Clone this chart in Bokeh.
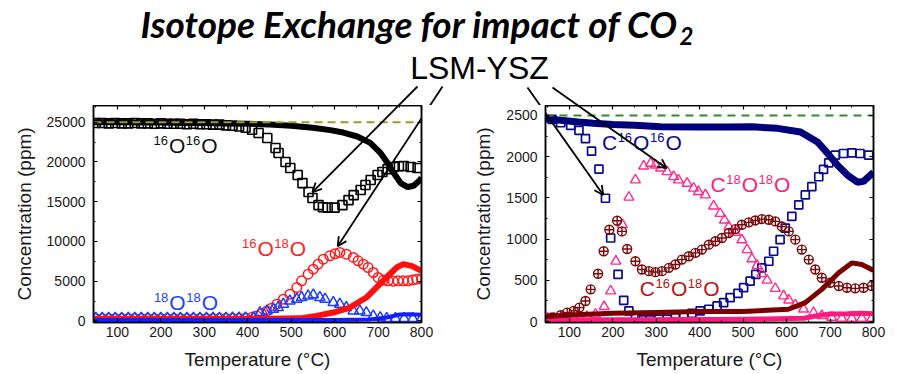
from bokeh.plotting import figure
from bokeh.layouts import column, row
from bokeh.models import Range1d, LinearAxis, Label, Arrow, OpenHead, FixedTicker
from bokeh.embed import file_html
from bokeh.resources import INLINE

# ---------------- tick labels ----------------
X_TICKS = [100, 200, 300, 400, 500, 600, 700, 800]
X_MINOR = [50, 150, 250, 350, 450, 550, 650, 750]
YL_TICKS = [0, 5000, 10000, 15000, 20000, 25000]
YL_MINOR = [2500, 7500, 12500, 17500, 22500]
YR_TICKS = [0, 500, 1000, 1500, 2000, 2500]
YR_MINOR = [250, 750, 1250, 1750, 2250]

# ---------------- left panel data (ppm vs Temperature, C) ----------------
t_L_sq = [50, 65, 80, 95, 110, 125, 140, 155, 170, 185, 200, 215, 230, 245, 260, 275, 290, 305, 320,
          335, 350, 365, 380, 395, 410,
          425, 445, 464, 471, 487, 498, 515, 526, 540, 549, 563, 573, 584, 600, 618, 632, 644, 660,
          671, 683, 699, 710, 722, 736, 748, 759, 775, 791]
c_L_sq = [24900, 24900, 24850, 24900, 24850, 24850, 24900, 24850, 24850, 24800, 24850, 24800, 24800,
          24800, 24750, 24800, 24750, 24750, 24700,
          24700, 24600, 24550, 24450, 24300, 24050,
          23640, 23010, 21760, 21120, 19990, 19230, 18350, 17340, 16210, 15460, 14570, 14300, 14250,
          14250, 14570, 15200, 15830, 16460, 17090, 17720, 18350, 18730, 19100, 19360, 19450, 19480,
          19360, 19230]

t_L_bk = [45, 100, 150, 200, 250, 300, 350, 400, 450, 500, 550, 590, 620, 652, 682, 706, 722, 736,
          752, 768, 782, 796, 800]
c_L_bk = [25000, 25000, 24950, 24950, 24900, 24900, 24850, 24800, 24700, 24550, 24300, 24000, 23700,
          23200, 22400, 21100, 19860, 18600, 17340, 16840, 17000, 17700, 18000]

t_L_rc = [50, 65, 80, 95, 110, 125, 140, 155, 170, 185, 200, 215, 230, 245, 260, 275, 290, 305, 320,
          335, 350, 365, 380, 395,
          410, 421, 432, 444, 455, 467, 482, 497, 513, 524, 539, 551, 562, 574, 589, 601, 612, 627,
          643, 654, 666, 677, 689, 700, 712, 723, 735, 746, 758, 769, 780, 789, 800]
c_L_rc = [300, 310, 300, 300, 310, 300, 300, 310, 300, 300, 310, 300, 300, 310, 300, 300, 310, 300,
          310, 320, 320, 330, 350, 380,
          450, 630, 900, 1260, 1600, 2100, 2730, 3360, 4200, 5040, 5880, 6510, 7140, 7770, 8190, 8450,
          8610, 8400, 7980, 7560, 7140, 6720, 6090, 5460, 5100, 5040, 5000, 5040, 5050, 5040, 5150,
          5250, 5300]

t_L_rt = [45, 150, 250, 350, 450, 520, 558, 597, 635, 673, 696, 719, 743, 758, 777, 800]
c_L_rt = [250, 250, 250, 250, 260, 320, 630, 1050, 1680, 2940, 4200, 5460, 6720, 7140, 6930, 6300]

t_L_bt = [50, 65, 80, 95, 110, 125, 140, 155, 170, 185, 200, 215, 230, 245, 260, 275, 290, 305, 320,
          335, 350, 365, 380, 395,
          413, 428, 444, 459, 470, 482, 497, 513, 524, 539, 551, 566, 578, 597, 612, 627, 643, 658,
          673, 689, 705, 720, 740, 760, 780, 800]
c_L_bt = [350, 340, 350, 350, 340, 350, 350, 340, 350, 350, 340, 350, 350, 340, 350, 350, 340, 350,
          350, 340, 350, 360, 370, 380,
          420, 1050, 1260, 1470, 1680, 2100, 2520, 2730, 2940, 3150, 3280, 2940, 2730, 2310, 2100,
          1680, 1260, 1260, 1050, 630, 420, 320, 300, 300, 300, 300]

t_L_bl = [45, 200, 400, 600, 680, 720, 750, 770, 800]
c_L_bl = [120, 120, 120, 130, 180, 420, 800, 850, 760]

feed_L = 25000

# ---------------- right panel data (ppm vs Temperature, C) ----------------
t_R_sq = [60, 80, 103, 122, 137, 151, 168, 183, 195, 212, 225, 237, 252, 267, 286, 306, 325, 344,
          363, 382, 401, 421, 440, 455, 470, 488, 501, 516, 529, 543, 559, 570, 585, 597, 612, 628,
          643, 658, 674, 685, 697, 712, 731, 750, 769, 789]
c_R_sq = [2452, 2411, 2379, 2319, 2218, 2066, 1849, 1495, 1013, 571, 257, 129, 48, 20, 20, 28, 28, 48,
          68, 100, 129, 149, 189, 229, 289, 342, 410, 490, 571, 651, 731, 852, 993, 1133, 1274, 1415,
          1535, 1636, 1756, 1845, 1925, 2018, 2038, 2046, 2038, 2018]

t_R_nv = [45, 80, 120, 155, 200, 250, 310, 400, 464, 520, 579, 632, 671, 694, 717, 740, 763, 777, 800]
c_R_nv = [2460, 2440, 2420, 2404, 2390, 2380, 2362, 2360, 2360, 2362, 2343, 2299, 2178, 2042, 1897,
          1776, 1690, 1700, 1810]

t_R_tr = [50, 65, 80, 95, 110, 125, 140, 160, 180, 195, 207, 222, 237, 252, 271, 287, 298, 310, 325,
          340, 351, 371, 386, 397, 413, 432, 447, 457, 467, 482, 497, 509, 520, 532, 543, 555, 574,
          593, 605, 620, 639, 662, 681, 704, 727, 750, 773, 796]
c_R_tr = [40, 40, 42, 40, 45, 50, 60, 88, 180, 370, 731, 1174, 1507, 1716, 1885, 1918, 1897, 1861,
          1816, 1756, 1716, 1676, 1616, 1575, 1535, 1400, 1310, 1230, 1150, 1080, 990, 870, 760, 680,
          580, 500, 400, 310, 260, 200, 150, 108, 70, 50, 40, 40, 40, 40]

t_R_pk = [45, 150, 250, 350, 450, 550, 640, 670, 700, 740, 770, 800]
c_R_pk = [20, 20, 22, 25, 25, 30, 40, 70, 90, 95, 100, 95]

t_R_cc = [60, 80, 95, 110, 123, 137, 149, 166, 179, 192, 210, 221, 233, 252, 267, 283, 298, 313, 329,
          344, 359, 375, 390, 405, 421, 436, 451, 467, 482, 497, 513, 528, 543, 559, 574, 589, 605,
          620, 635, 651, 666, 681, 700, 720, 739, 758, 777, 796]
c_R_cc = [48, 76, 108, 129, 169, 249, 390, 579, 852, 1113, 1222, 1093, 880, 731, 631, 611, 599, 611,
          651, 691, 751, 792, 832, 872, 932, 973, 1013, 1073, 1121, 1174, 1202, 1226, 1242, 1234,
          1214, 1153, 1093, 993, 872, 751, 631, 531, 470, 430, 410, 402, 410, 430]

t_R_mr = [45, 100, 200, 300, 400, 500, 604, 643, 681, 720, 750, 773, 800]
c_R_mr = [60, 80, 100, 110, 120, 120, 149, 229, 390, 591, 711, 691, 620]

feed_R = 2500

# ---------------- texts ----------------
TITLE = "Isotope Exchange for impact of CO"
TITLE_SUB = "2"
SAMPLE = "LSM-YSZ"
X_LABEL = "Temperature (\u00b0C)"
Y_LABEL = "Concentration (ppm)"

FONT = "Liberation Sans"
X_RANGE = (45, 800)
YL_RANGE = (-200, 27100)
YR_RANGE = (-12, 2620)

# page geometry of the two plot frames (px)
FR = {"L": (93, 421, 105, 322, YL_RANGE), "R": (545, 873, 105, 322, YR_RANGE)}
FIG_X = {"L": 0, "R": 455}
TOP_H = 105


def to_px(panel, t, c):
    x0, x1, y0, y1, yr = FR[panel]
    px = x0 + (t - X_RANGE[0]) * (x1 - x0) / (X_RANGE[1] - X_RANGE[0])
    py = y1 - (c - yr[0]) * (y1 - y0) / (yr[1] - yr[0])
    return px, py


def to_data(panel, px, py):
    x0, x1, y0, y1, yr = FR[panel]
    t = X_RANGE[0] + (px - x0) * (X_RANGE[1] - X_RANGE[0]) / (x1 - x0)
    c = yr[0] + (y1 - py) * (yr[1] - yr[0]) / (y1 - y0)
    return t, c


# arrows: start in page px (under "LSM-YSZ"), tip in data coords
ARROWS = [((417, 86), ("L", 549, 16200)),
          ((442, 86), ("L", 607, 9400)),
          ((527, 87), ("R", 178, 1535)),
          ((552, 87), ("R", 324, 1860))]


def style_axis(ax, ticker, standoff, labels=True):
    ax.ticker = ticker
    ax.axis_line_color = "black"
    ax.axis_line_width = 1.5
    ax.major_tick_in = 4
    ax.major_tick_out = 0
    ax.minor_tick_in = 2
    ax.minor_tick_out = 0
    ax.major_tick_line_width = 1.2
    ax.minor_tick_line_width = 1
    ax.major_tick_line_color = "black"
    ax.minor_tick_line_color = "black"
    if labels:
        ax.major_label_text_font = FONT
        ax.major_label_text_font_size = "14px"
        ax.major_label_text_color = "#1a1a1a"
        ax.major_label_standoff = standoff
        ax.axis_label_text_font = FONT
        ax.axis_label_text_font_size = "19px"
        ax.axis_label_text_font_style = "normal"
        ax.axis_label_text_color = "#1a1a1a"
        ax.axis_label_standoff = 9
    else:
        ax.major_label_text_font_size = "0px"
        ax.major_label_overrides = {t: "" for t in ticker.ticks}
        ax.major_label_standoff = 0
        ax.axis_label = None


def make_panel(panel, width, yr, yticks, yminor):
    x0, x1, y0, y1, _ = FR[panel]
    left = x0 - FIG_X[panel]
    right = width - (x1 - FIG_X[panel])
    p = figure(width=width, height=374 - TOP_H, x_range=Range1d(*X_RANGE), y_range=Range1d(*yr),
               output_backend="svg", toolbar_location=None, title=None,
               min_border_left=left, min_border_right=right, min_border_top=0,
               min_border_bottom=(374 - TOP_H) - (y1 - TOP_H))
    p.grid.visible = False
    p.outline_line_color = "black"
    p.outline_line_width = 1.5
    p.background_fill_color = "white"
    p.border_fill_color = "white"
    xt = FixedTicker(ticks=X_TICKS, minor_ticks=X_MINOR)
    yt = FixedTicker(ticks=yticks, minor_ticks=yminor)
    style_axis(p.xaxis[0], xt, 4)
    style_axis(p.yaxis[0], yt, 8)
    p.xaxis[0].axis_label = X_LABEL
    p.yaxis[0].axis_label = Y_LABEL
    top_ax = LinearAxis()
    style_axis(top_ax, xt, 0, labels=False)
    p.add_layout(top_ax, "above")
    right_ax = LinearAxis()
    style_axis(right_ax, yt, 0, labels=False)
    p.add_layout(right_ax, "right")
    return p


def add_iso_label(p, t, c, pieces, color):
    # sizes in px; vertical offsets compensate the renderer's text placement
    main, sup, raise_px = 21, 13, 8
    main_fix, sup_fix = 7.3, 4.5
    w = {"C": 0.722, "O": 0.778, "1": 0.556, "6": 0.556, "8": 0.556}
    off = 0.0
    for txt, is_sup in pieces:
        size = sup if is_sup else main
        dy = (raise_px + sup_fix) if is_sup else main_fix
        p.add_layout(Label(x=t, y=c, x_offset=off, y_offset=dy, text=txt,
                           text_font=FONT, text_font_size=f"{size}px", text_color=color,
                           text_align="left", text_baseline="alphabetic"))
        off += sum(w[ch] for ch in txt) * size + (1 if is_sup else 0.5)


def add_arrows(p, panel):
    for (sx, sy), (pan, tt, tc) in ARROWS:
        if pan != panel:
            continue
        st, sc = to_data(panel, sx, sy)
        p.add_layout(Arrow(end=OpenHead(size=9, line_width=1.8, line_color="black"),
                           x_start=st, y_start=sc, x_end=tt, y_end=tc,
                           line_width=1.8, line_color="black"))


# ---------------- left panel ----------------
pL = make_panel("L", 455, YL_RANGE, YL_TICKS, YL_MINOR)
pL.scatter(t_L_rc, c_L_rc, marker="circle", size=9.5, fill_color=None, line_color="#ff1a1a", line_width=1.5)
pL.scatter(t_L_bt, c_L_bt, marker="triangle", size=10.5, fill_color=None, line_color="#1f3dff", line_width=1.5)
pL.scatter(t_L_sq, c_L_sq, marker="square", size=9, fill_color=None, line_color="black", line_width=1.6)
pL.line(t_L_rt, c_L_rt, line_color="#ff1010", line_width=6)
pL.line(t_L_bk, c_L_bk, line_color="black", line_width=6)
pL.line(t_L_bl, c_L_bl, line_color="#1020ff", line_width=4)
pL.line([X_RANGE[0], X_RANGE[1]], [feed_L, feed_L], line_color="#9c9c2a", line_width=2, line_dash="8 5")
add_iso_label(pL, 183, 21120, [("16", True), ("O", False), ("16", True), ("O", False)], "#111111")
add_iso_label(pL, 387, 8150, [("16", True), ("O", False), ("18", True), ("O", False)], "#ff1f1f")
add_iso_label(pL, 184, 1350, [("18", True), ("O", False), ("18", True), ("O", False)], "#1f3fff")
add_arrows(pL, "L")

# ---------------- right panel ----------------
pR = make_panel("R", 450, YR_RANGE, YR_TICKS, YR_MINOR)
pR.scatter(t_R_sq, c_R_sq, marker="square", size=8, fill_color=None, line_color="#0a0a8c", line_width=1.7)
pR.scatter(t_R_tr, c_R_tr, marker="triangle", size=10, fill_color=None, line_color="#ff2a8c", line_width=1.4)
pR.scatter(t_R_cc, c_R_cc, marker="circle_cross", size=9, fill_color=None, line_color="#7a0a0a", line_width=1.4)
pR.line(t_R_pk, c_R_pk, line_color="#ff1a80", line_width=5)
pR.line(t_R_mr, c_R_mr, line_color="#7a0000", line_width=5)
pR.line(t_R_nv, c_R_nv, line_color="#00007a", line_width=7)
pR.line([X_RANGE[0], X_RANGE[1]], [feed_R, feed_R], line_color="#2e8b2e", line_width=2, line_dash="8 6")
add_iso_label(pR, 175, 2078, [("C", False), ("16", True), ("O", False), ("16", True), ("O", False)], "#0a0a8c")
add_iso_label(pR, 425, 1575, [("C", False), ("18", True), ("O", False), ("18", True), ("O", False)], "#ff1a80")
add_iso_label(pR, 262, 309, [("C", False), ("16", True), ("O", False), ("18", True), ("O", False)], "#c01010")
add_arrows(pR, "R")

# ---------------- top strip (title, sample name, arrow roots) ----------------
top = figure(width=905, height=TOP_H, x_range=Range1d(0, 905), y_range=Range1d(TOP_H, 0),
             output_backend="svg", toolbar_location=None, min_border=0, title=None,
             x_axis_location=None, y_axis_location=None)
top.grid.visible = False
top.outline_line_color = None
top.add_layout(Label(x=140, y=23, text=TITLE, text_font="Lato", text_font_style="bold italic",
                     text_font_size="37px", text_color="black", text_baseline="alphabetic"))
top.add_layout(Label(x=679, y=35, text=TITLE_SUB, text_font="Lato", text_font_style="bold italic",
                     text_font_size="24px", text_color="black", text_baseline="alphabetic"))
top.add_layout(Label(x=479, y=67, text=SAMPLE, text_font=FONT, text_font_size="32px",
                     text_color="black", text_align="center", text_baseline="alphabetic"))
x0s, y0s, x1s, y1s = [], [], [], []
for (sx, sy), (pan, tt, tc) in ARROWS:
    ex, ey = to_px(pan, tt, tc)
    x0s.append(sx); y0s.append(sy); x1s.append(ex); y1s.append(ey)
top.segment(x0s, y0s, x1s, y1s, line_color="black", line_width=1.8)

layout = column(top, row(pL, pR, spacing=0), spacing=0)
open("out.html", "w").write(file_html(layout, INLINE))
